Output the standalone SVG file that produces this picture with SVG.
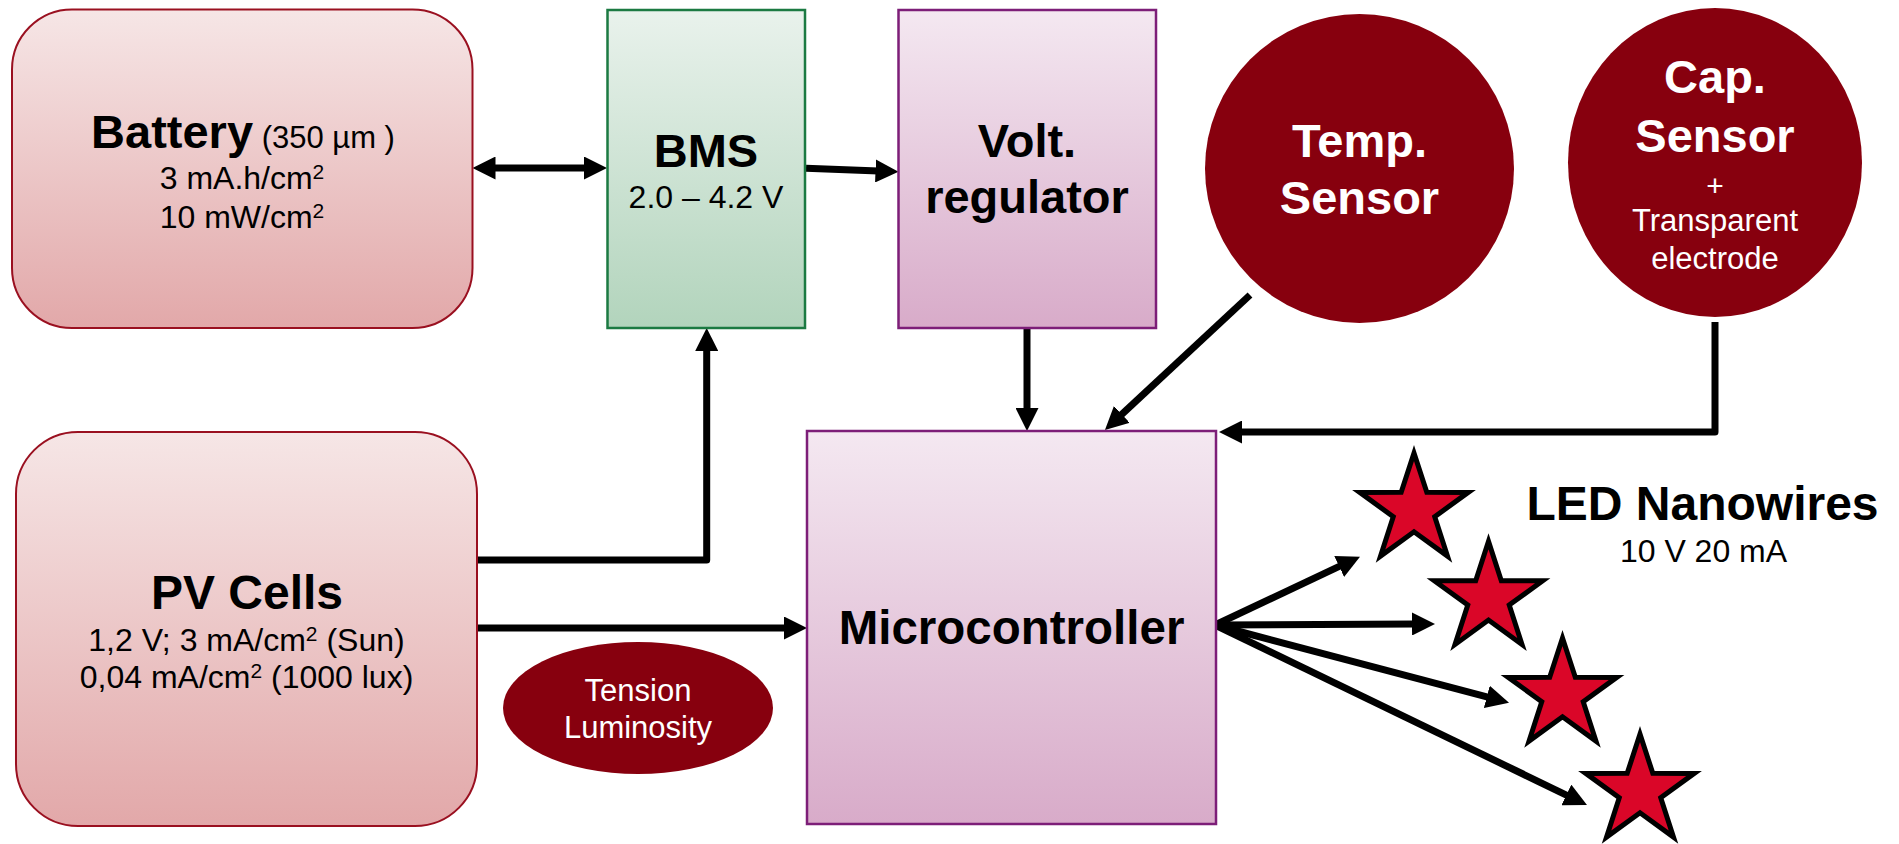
<svg xmlns="http://www.w3.org/2000/svg" xmlns:xlink="http://www.w3.org/1999/xlink" width="1899" height="844" viewBox="0 0 1899 844">
<style>
text{font-family:"Liberation Sans",Arial,sans-serif;fill:#000}
.b{font-weight:bold}
.w{fill:#fff}
.red{fill:url(#gRed);stroke:#9a1020;stroke-width:2}
.green{fill:url(#gGreen);stroke:#1b7a42;stroke-width:2.5}
.purple{fill:url(#gPurple);stroke:#7d1e78;stroke-width:2.5}
.sensor{fill:#87000e}
.conn{fill:none;stroke:#000;stroke-width:7;stroke-linejoin:round}
.star{fill:#da0628;stroke:#000;stroke-width:5;stroke-linejoin:miter}
</style>
<defs>
<linearGradient id="gRed" x1="0" y1="0" x2="0" y2="1"><stop offset="0" stop-color="#f6e6e6"/><stop offset="1" stop-color="#e2a8a9"/></linearGradient>
<linearGradient id="gGreen" x1="0" y1="0" x2="0" y2="1"><stop offset="0" stop-color="#e9f2ec"/><stop offset="1" stop-color="#b2d4bc"/></linearGradient>
<linearGradient id="gPurple" x1="0" y1="0" x2="0" y2="1"><stop offset="0" stop-color="#f4e8f1"/><stop offset="1" stop-color="#d8abc9"/></linearGradient>
<marker id="ah" markerUnits="userSpaceOnUse" markerWidth="23" markerHeight="23" refX="3" refY="11.5" orient="auto-start-reverse" viewBox="0 0 23 23">
<path d="M0,0 L23,11.5 L0,23 z" fill="#000"/>
</marker>
<polygon id="starShape" points="0,-57 12.81,-17.64 54.21,-17.61 20.73,6.74 33.5,46.11 0,21.8 -33.5,46.11 -20.73,6.74 -54.21,-17.61 -12.81,-17.64"/>
</defs>
<rect width="1899" height="844" fill="#fff"/>

<g id="connectors">
<path class="conn" d="M492.5,168 L587,168" marker-start="url(#ah)" marker-end="url(#ah)"/>
<path class="conn" d="M806,168.3 L878.5,171" marker-end="url(#ah)"/>
<path class="conn" d="M477,560 L706.7,560 L706.7,348" marker-end="url(#ah)"/>
<path class="conn" d="M477,628 L787,628" marker-end="url(#ah)"/>
<path class="conn" d="M1027,328 L1027,411" marker-end="url(#ah)"/>
<path class="conn" d="M1250,295 L1119.6,416.4" marker-end="url(#ah)"/>
<path class="conn" d="M1715,322 L1715,432 L1239,432" marker-end="url(#ah)"/>
<path class="conn" d="M1215,625 L1341.9,565.2" marker-end="url(#ah)"/>
<path class="conn" d="M1215,625 L1415,624" marker-end="url(#ah)"/>
<path class="conn" d="M1215,625 L1489.7,697.6" marker-end="url(#ah)"/>
<path class="conn" d="M1215,625 L1569,796.3" marker-end="url(#ah)"/>
</g>

<g id="battery">
<rect class="red" x="12" y="9.5" width="460.5" height="318.5" rx="60" ry="60"/>
<text x="243" y="148" text-anchor="middle"><tspan class="b" font-size="47">Battery</tspan><tspan font-size="31"> (350 µm )</tspan></text>
<text x="242" y="189" text-anchor="middle" font-size="32">3 mA.h/cm<tspan font-size="21" dy="-10">2</tspan></text>
<text x="242" y="228" text-anchor="middle" font-size="32">10 mW/cm<tspan font-size="21" dy="-10">2</tspan></text>
</g>

<g id="bms">
<rect class="green" x="607.5" y="10" width="197.5" height="318"/>
<text class="b" x="706" y="167" text-anchor="middle" font-size="47">BMS</text>
<text x="706" y="208" text-anchor="middle" font-size="32">2.0 – 4.2 V</text>
</g>

<g id="volt-regulator">
<rect class="purple" x="898.5" y="10" width="257.5" height="318"/>
<text class="b" x="1027" y="157" text-anchor="middle" font-size="47">Volt.</text>
<text class="b" x="1027" y="213" text-anchor="middle" font-size="47">regulator</text>
</g>

<g id="temp-sensor">
<circle class="sensor" cx="1359.5" cy="168.5" r="154.5"/>
<text class="b w" x="1359.5" y="157" text-anchor="middle" font-size="47">Temp.</text>
<text class="b w" x="1359.5" y="214" text-anchor="middle" font-size="47">Sensor</text>
</g>

<g id="cap-sensor">
<ellipse class="sensor" cx="1715" cy="162.5" rx="147" ry="154.5"/>
<text class="b w" x="1715" y="93" text-anchor="middle" font-size="47">Cap.</text>
<text class="b w" x="1715" y="152" text-anchor="middle" font-size="47">Sensor</text>
<text class="w" x="1715" y="196" text-anchor="middle" font-size="30">+</text>
<text class="w" x="1715" y="231" text-anchor="middle" font-size="31">Transparent</text>
<text class="w" x="1715" y="269" text-anchor="middle" font-size="31">electrode</text>
</g>

<g id="pv-cells">
<rect class="red" x="16" y="432" width="461" height="394" rx="62" ry="62"/>
<text class="b" x="247" y="609" text-anchor="middle" font-size="48">PV Cells</text>
<text x="246.5" y="651" text-anchor="middle" font-size="32">1,2 V; 3 mA/cm<tspan font-size="21" dy="-10">2</tspan><tspan dy="10"> (Sun)</tspan></text>
<text x="246.5" y="688" text-anchor="middle" font-size="32">0,04 mA/cm<tspan font-size="21" dy="-10">2</tspan><tspan dy="10"> (1000 lux)</tspan></text>
</g>

<g id="tension-luminosity">
<ellipse class="sensor" cx="638" cy="708" rx="135" ry="66"/>
<text class="w" x="638" y="701" text-anchor="middle" font-size="31">Tension</text>
<text class="w" x="638" y="738" text-anchor="middle" font-size="31">Luminosity</text>
</g>

<g id="microcontroller">
<rect class="purple" x="807" y="431" width="409" height="393"/>
<text class="b" x="1011.5" y="644" text-anchor="middle" font-size="47.5">Microcontroller</text>
</g>

<g id="led-nanowires">
<use xlink:href="#starShape" href="#starShape" class="star" transform="translate(1414,510)"/>
<use xlink:href="#starShape" href="#starShape" class="star" transform="translate(1488.5,598.3)"/>
<use xlink:href="#starShape" href="#starShape" class="star" transform="translate(1562.5,695)"/>
<use xlink:href="#starShape" href="#starShape" class="star" transform="translate(1640,791)"/>
<text class="b" x="1702.5" y="520" text-anchor="middle" font-size="48">LED Nanowires</text>
<text x="1703.5" y="562" text-anchor="middle" font-size="32">10 V 20 mA</text>
</g>
</svg>
